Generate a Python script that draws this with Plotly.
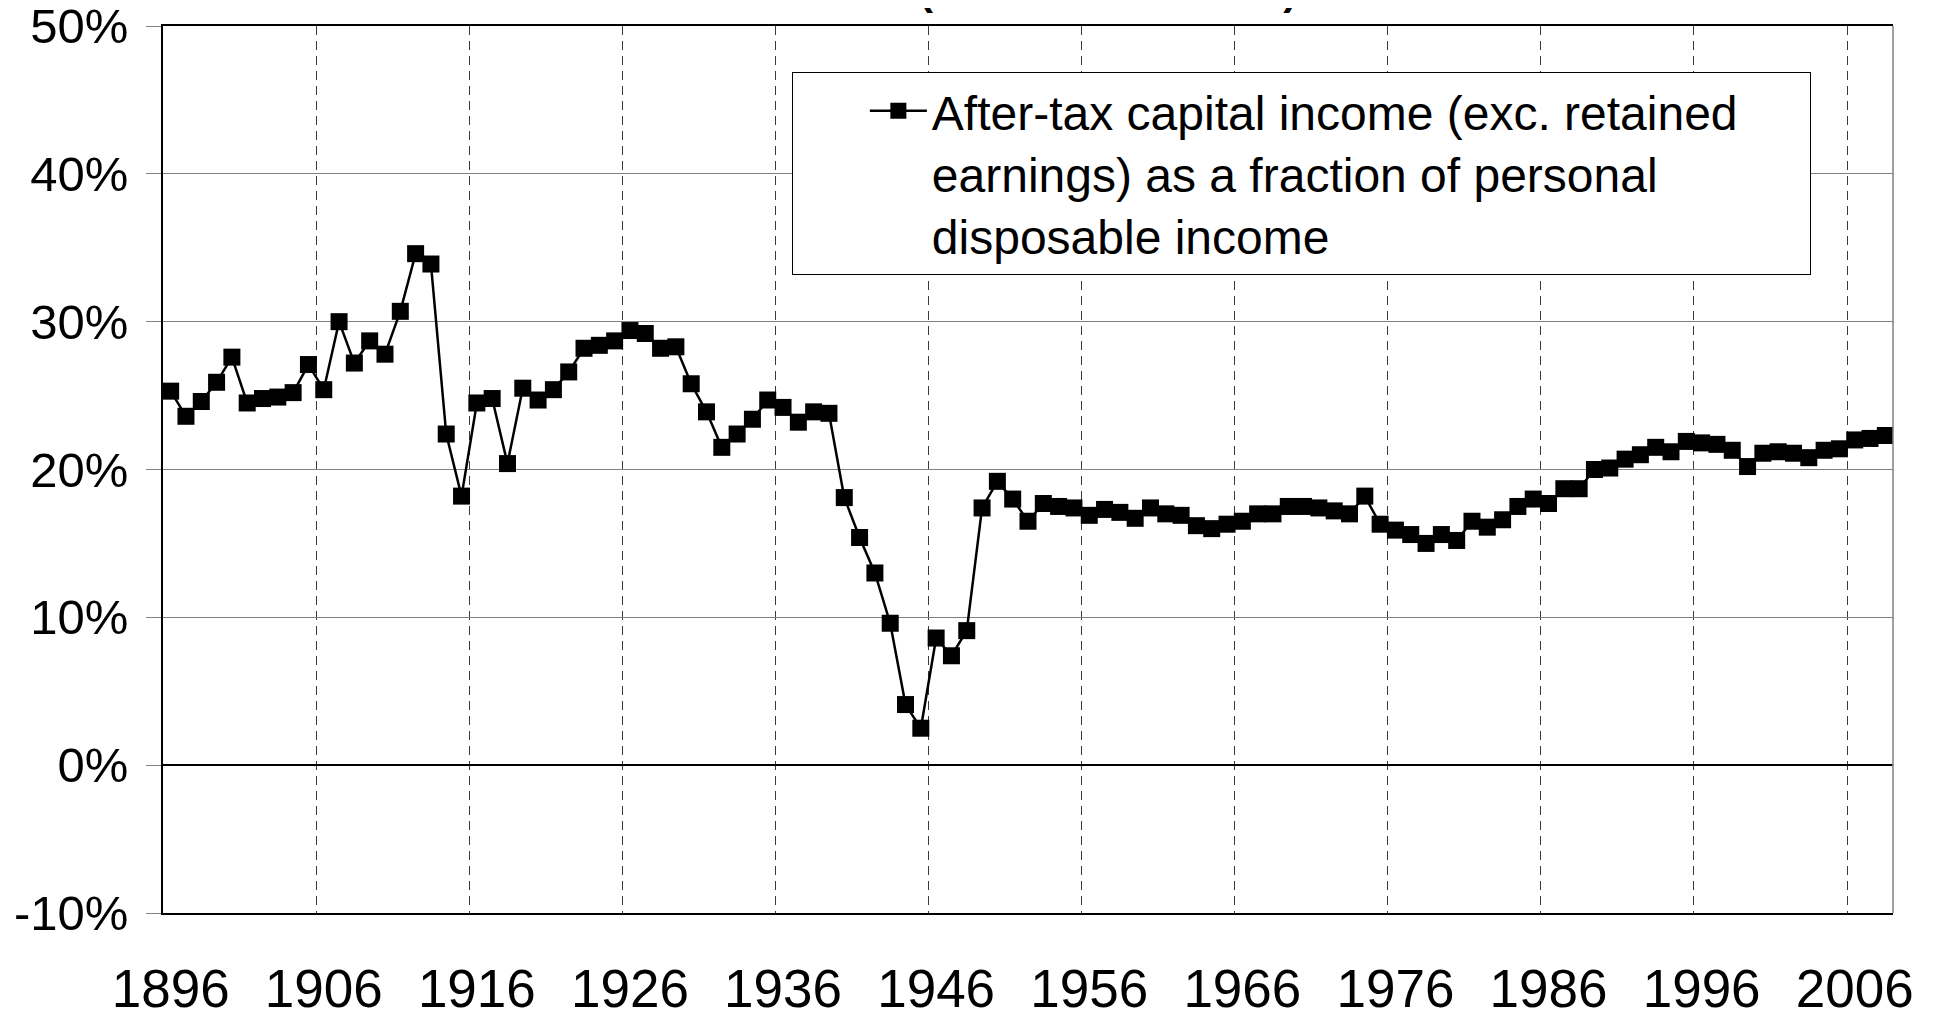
import plotly.graph_objects as go

# After-tax capital income share, France, 1896-2008 (in %)
years = list(range(1896, 2009))
share = [
    25.3, 23.6, 24.6, 25.9, 27.6, 24.5, 24.8, 24.9, 25.2, 27.1,   # 1896-1905
    25.4, 30.0, 27.2, 28.7, 27.8, 30.7, 34.6, 33.9, 22.4, 18.2,   # 1906-1915
    24.5, 24.8, 20.4, 25.5, 24.7, 25.4, 26.6, 28.2, 28.4, 28.7,   # 1916-1925
    29.4, 29.2, 28.2, 28.3, 25.8, 23.9, 21.5, 22.4, 23.4, 24.7,   # 1926-1935
    24.2, 23.2, 23.9, 23.8, 18.1, 15.4, 13.0, 9.6, 4.1, 2.5,      # 1936-1945
    8.6, 7.4, 9.1, 17.4, 19.2, 18.0, 16.5, 17.7, 17.5, 17.4,      # 1946-1955
    16.9, 17.3, 17.1, 16.7, 17.4, 17.0, 16.9, 16.2, 16.0, 16.3,   # 1956-1965
    16.5, 17.0, 17.0, 17.5, 17.5, 17.4, 17.2, 17.0, 18.2, 16.3,   # 1966-1975
    15.9, 15.6, 15.0, 15.6, 15.2, 16.5, 16.1, 16.6, 17.5, 18.0,   # 1976-1985
    17.7, 18.7, 18.7, 20.0, 20.1, 20.7, 21.0, 21.5, 21.2, 21.9,   # 1986-1995
    21.8, 21.7, 21.3, 20.2, 21.1, 21.2, 21.1, 20.8, 21.3, 21.4,   # 1996-2005
    22.0, 22.1, 22.3,                                              # 2006-2008
]
x_ticks = list(range(1896, 2007, 10))
y_ticks = [-10, 0, 10, 20, 30, 40, 50]
y_ticktext = ["-10%", "0%", "10%", "20%", "30%", "40%", "50%"]

series_name = (
    "After-tax capital income (exc. retained" + "\u00a0" * 5 + "<br>"
    "earnings) as a fraction of personal<br>"
    "disposable income"
)
title_text = "<b>(France 1896-2008)</b>"

FONT = "Arial, 'Liberation Sans', sans-serif"
GRID = "#808080"

fig = go.Figure()
fig.add_trace(go.Scatter(
    x=years, y=share,
    mode="lines+markers",
    name=series_name,
    line=dict(color="black", width=2.5),
    marker=dict(symbol="square", size=17, color="black"),
))

# the page body keeps its default 8px margin, so the figure is 8px smaller
fig.update_layout(
    width=1927, height=1006,
    paper_bgcolor="white", plot_bgcolor="white",
    margin=dict(l=155, r=42, t=18, b=101, autoexpand=False),
    font=dict(family=FONT, color="black"),
    showlegend=True,
    legend=dict(
        x=0.3635, y=0.948, xanchor="left", yanchor="top",
        bgcolor="white", bordercolor="black", borderwidth=1,
        font=dict(size=48, family=FONT),
        itemwidth=57, indentation=72, valign="top",
    ),
    xaxis=dict(
        range=[1895.5, 2008.5], automargin=False,
        tickmode="array", tickvals=x_ticks,
        ticks="", showgrid=False, zeroline=False,
        showline=True, linecolor="black", linewidth=1.5, mirror=True,
        tickfont=dict(size=53, family=FONT),
        ticklabelstandoff=29, ticklabeloverflow="allow",
        minor=dict(
            tick0=1905.5, dtick=10, ticks="", showgrid=True,
            gridcolor="#3a3a3a", gridwidth=1, griddash="9px,6px",
        ),
    ),
    yaxis=dict(
        range=[-10, 50], automargin=False,
        tickmode="array", tickvals=y_ticks, ticktext=y_ticktext,
        showgrid=True, gridcolor=GRID, gridwidth=1,
        zeroline=True, zerolinecolor="black", zerolinewidth=1.5,
        showline=True, linecolor="black", linewidth=1.5,
        ticks="outside", ticklen=15, tickcolor=GRID,
        tickfont=dict(size=49, family=FONT),
        ticklabelstandoff=8, ticklabeloverflow="allow",
    ),
)

# grey right edge of the plot frame
fig.add_shape(
    type="line", xref="paper", yref="paper",
    x0=1, x1=1, y0=0, y1=1,
    line=dict(color=GRID, width=1.5),
)

# chart title sits mostly above the page, as in the source image
fig.add_annotation(
    text=title_text,
    xref="paper", yref="paper",
    x=0.5463, y=1, xanchor="center", yanchor="bottom",
    yshift=11, showarrow=False,
    font=dict(size=42, family=FONT),
)

fig.write_html("out.html")
